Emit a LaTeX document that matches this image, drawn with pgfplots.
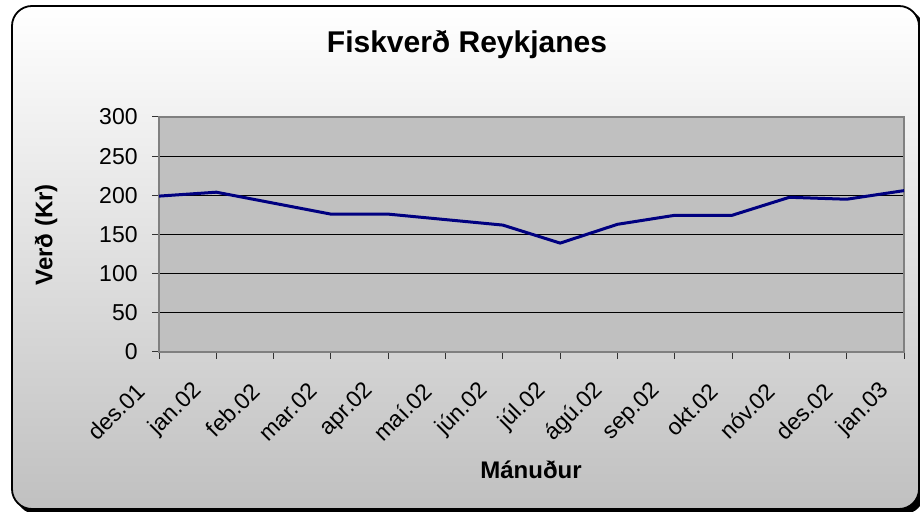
\documentclass[border=0pt]{standalone}
\usepackage{fontspec}
\setmainfont{Liberation Sans}
\usepackage{pgfplots}
\pgfplotsset{compat=1.18}
\definecolor{navyline}{RGB}{0,0,128}
\definecolor{plotgray}{RGB}{192,192,192}
\definecolor{bordergray}{RGB}{128,128,128}
\begin{document}
\begin{tikzpicture}[x=1pt,y=1pt]
\useasboundingbox (0,0) rectangle (460,256);
\begin{scope}
\clip (0,0) rectangle (460,256);
% shadow
\fill[black,rounded corners=10pt] (8,-1) rectangle (462,251);
% frame
\shade[top color=white, bottom color=plotgray, draw=black, line width=0.9pt, rounded corners=10pt] (6,1.5) rectangle (459.5,253);
\end{scope}
\begin{axis}[
  at={(79.5pt,80pt)}, anchor=south west,
  scale only axis, width=372.5pt, height=117.5pt,
  xmin=0, xmax=13, ymin=0, ymax=300,
  axis background/.style={fill=plotgray},
  axis line style={bordergray, line width=0.6pt},
  xtick={0,...,13},
  xticklabels={des.01,jan.02,feb.02,mar.02,apr.02,maí.02,jún.02,júl.02,ágú.02,sep.02,okt.02,nóv.02,des.02,jan.03},
  ytick={0,50,...,300},
  ymajorgrids, grid style={black, line width=0.5pt},
  tick align=outside, major tick length=3.5pt,
  tick style={black!80, line width=0.5pt},
  xtick pos=bottom, ytick pos=left,
  /pgf/number format/assume math mode=true,
  tick label style={font=\fontsize{11.5}{13}\selectfont},
  x tick label style={xshift=-9pt, yshift=-14pt, rotate=45, anchor=east, inner sep=0pt},
  y tick label style={inner sep=0pt, xshift=-7pt},
  clip=false,
]
\addplot[navyline, line width=1.5pt] coordinates {
(0,199) (1,204) (2,190) (3,176) (4,176) (5,169) (6,162) (7,139) (8,163) (9,174.5) (10,174.5) (11,197.5) (12,195) (13,206)
};
\end{axis}
\node[font=\bfseries\fontsize{15}{17}\selectfont] at (233.5,233.5) {Fiskverð Reykjanes};
\node[font=\bfseries\fontsize{12}{14}\selectfont, rotate=90] at (23,138.5) {Verð (Kr)};
\node[font=\bfseries\fontsize{12}{14}\selectfont] at (265.5,21) {Mánuður};
\end{tikzpicture}
\end{document}
